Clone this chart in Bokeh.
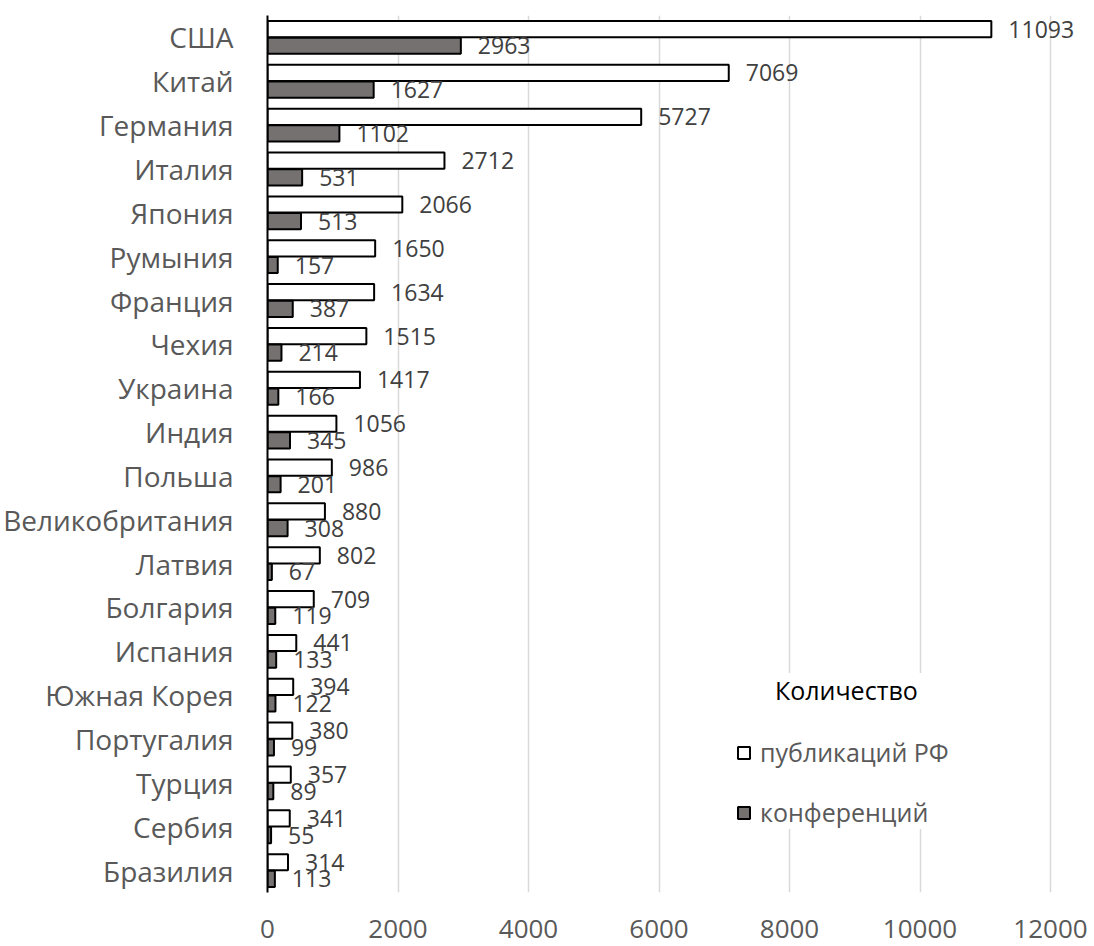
from bokeh.plotting import figure
from bokeh.models import ColumnDataSource, FactorRange, Range1d, FixedTicker, Legend, LegendItem
from bokeh.transform import dodge
from bokeh.core.properties import value
from bokeh.embed import file_html
from bokeh.resources import INLINE

# Countries, top to bottom
countries = ["США", "Китай", "Германия", "Италия", "Япония", "Румыния", "Франция",
             "Чехия", "Украина", "Индия", "Польша", "Великобритания", "Латвия",
             "Болгария", "Испания", "Южная Корея", "Португалия", "Турция",
             "Сербия", "Бразилия"]
# Number of Russian publications per country
publications = [11093, 7069, 5727, 2712, 2066, 1650, 1634, 1515, 1417, 1056,
                986, 880, 802, 709, 441, 394, 380, 357, 341, 314]
# Number of conferences per country
conferences = [2963, 1627, 1102, 531, 513, 157, 387, 214, 166, 345,
               201, 308, 67, 119, 133, 122, 99, 89, 55, 113]
x_ticks = [0, 2000, 4000, 6000, 8000, 10000, 12000]

FONT = "Open Sans"

src = ColumnDataSource(dict(
    country=countries,
    pub=publications,
    conf=conferences,
    pub_label=[str(v) for v in publications],
    conf_label=[str(v) for v in conferences],
))

# The x range runs a little past the last tick so the longest value label
# has room inside the plotting frame.
p = figure(
    width=1094, height=946,
    y_range=FactorRange(factors=countries[::-1]),
    x_range=Range1d(0, 12674),
    output_backend="svg", toolbar_location=None,
    min_border_left=267, min_border_right=0,
    min_border_top=15, min_border_bottom=54,
)
p.outline_line_color = None
p.background_fill_color = "white"
p.border_fill_color = "white"

OFF = 0.19
BAR_H = 0.37

r_pub = p.hbar(y=dodge("country", OFF, range=p.y_range), left=0, right="pub",
               height=BAR_H, fill_color="white", line_color="black",
               line_width=2, source=src)
r_conf = p.hbar(y=dodge("country", -OFF, range=p.y_range), left=0, right="conf",
                height=BAR_H, fill_color="#767171", line_color="black",
                line_width=2, source=src)

p.text(x="pub", y=dodge("country", OFF, range=p.y_range), text="pub_label",
       x_offset=17, text_baseline="middle", text_align="left",
       text_font=value(FONT), text_font_size="23px", text_color="#404040",
       source=src)
p.text(x="conf", y=dodge("country", -OFF, range=p.y_range), text="conf_label",
       x_offset=17, text_baseline="middle", text_align="left",
       text_font=value(FONT), text_font_size="23px", text_color="#404040",
       source=src)

# Axes
p.xaxis.ticker = FixedTicker(ticks=x_ticks)
p.xaxis.axis_line_color = None
p.xaxis.major_tick_line_color = None
p.xaxis.minor_tick_line_color = None
p.xaxis.major_label_text_font = FONT
p.xaxis.major_label_text_font_size = "26px"
p.xaxis.major_label_text_color = "#595959"
p.xaxis.major_label_standoff = 21

p.yaxis.axis_line_color = "black"
p.yaxis.axis_line_width = 2
p.yaxis.major_tick_line_color = None
p.yaxis.minor_tick_line_color = None
p.yaxis.major_label_text_font = FONT
p.yaxis.major_label_text_font_size = "28px"
p.yaxis.major_label_text_color = "#595959"
p.yaxis.major_label_standoff = 28

p.ygrid.grid_line_color = None
p.xgrid.grid_line_color = "#d9d9d9"
p.xgrid.grid_line_width = 1.5

legend = Legend(
    items=[LegendItem(label="публикаций РФ", renderers=[r_pub]),
           LegendItem(label="конференций", renderers=[r_conf])],
    title="\u00a0" * 6 + "Количество",
    location=(469, 63),
    padding=12, margin=0, spacing=26,
    glyph_width=15, glyph_height=15, label_height=30, label_standoff=9,
    title_standoff=28,
    label_text_font=FONT, label_text_font_size="25px", label_text_color="#595959",
    title_text_font=FONT, title_text_font_size="25px", title_text_color="black",
    title_text_font_style="normal",
    background_fill_color="white", background_fill_alpha=1.0,
    border_line_color=None,
)
p.add_layout(legend, "center")

open("out.html", "w").write(file_html(p, INLINE))
